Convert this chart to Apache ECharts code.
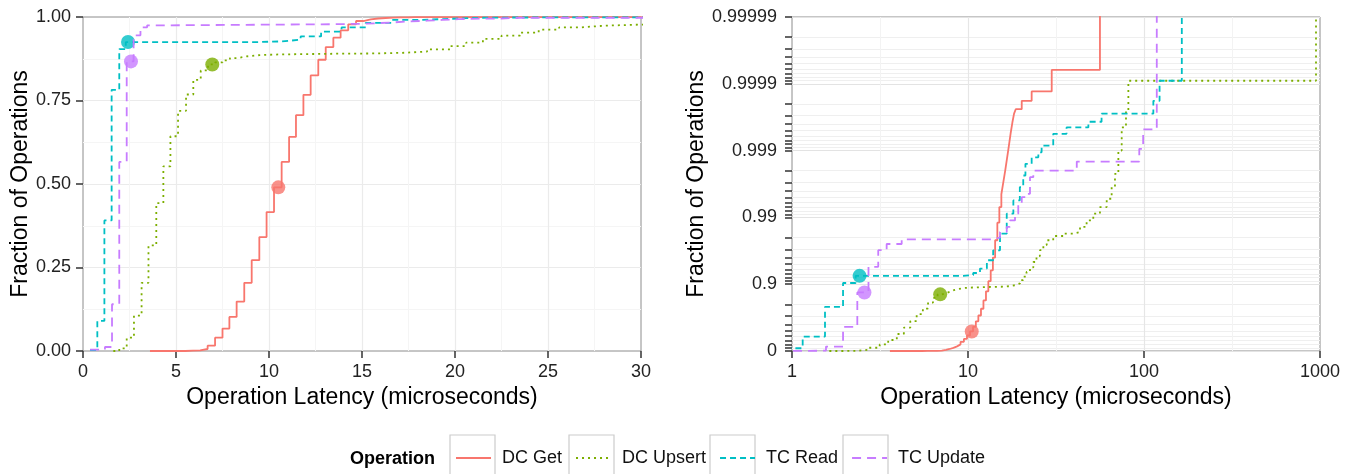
<!DOCTYPE html>
<html>
<head>
<meta charset="utf-8">
<title>Operation latency CDF</title>
<script src="https://cdn.jsdelivr.net/npm/echarts@6/dist/echarts.min.js"></script>
<style>
  html, body { margin: 0; padding: 0; background: #fff; }
  #chart { width: 1354px; height: 474px; }
</style>
</head>
<body>
<div id="chart"></div>
<script>
// operations, in legend order
var operations = ['DC Get', 'DC Upsert', 'TC Read', 'TC Update'];

// cumulative curves: latency in microseconds, fraction of operations at or below it
var dcGetLatency = [3.6, 5.5, 5.9, 6.3, 6.7, 7.1, 7.5, 7.87, 8.26, 8.67, 9.07, 9.48, 9.87, 10.27, 10.68, 11.08, 11.45, 11.85, 12.24, 12.65, 13.05, 13.46, 13.85, 14.26, 14.68, 15.07, 15.47, 15.87, 16.27, 16.67, 17.07, 17.47, 17.87, 18.27, 18.67, 20.2, 23.0, 29.9, 56.2];
var dcGetFraction = [0, 0.001, 0.002, 0.006, 0.016, 0.040, 0.067, 0.102, 0.148, 0.204, 0.272, 0.341, 0.416, 0.490, 0.566, 0.641, 0.706, 0.767, 0.825, 0.872, 0.910, 0.938, 0.960, 0.978, 0.988, 0.993, 0.9955, 0.997, 0.998, 0.9987, 0.99915, 0.99945, 0.99962, 0.99972, 0.99976, 0.99982, 0.99987, 0.999938, 1];

var dcUpsertLatency = [1.63, 1.95, 2.35, 2.74, 3.15, 3.52, 3.94, 4.32, 4.70, 5.11, 5.54, 5.93, 6.33, 6.72, 7.1, 7.5, 7.9, 8.3, 8.8, 9.5, 10.6, 13.5, 15.9, 17.3, 18.5, 19.75, 20.6, 21.5, 22.5, 23.5, 24.5, 25.6, 26.8, 28.0, 30.5, 34.8, 39.7, 43.3, 47.2, 51.5, 56.2, 61.4, 65.5, 68.4, 71.5, 74.7, 79.0, 81.5, 949];
var dcUpsertFraction = [0, 0.008, 0.040, 0.106, 0.204, 0.316, 0.443, 0.553, 0.643, 0.719, 0.768, 0.812, 0.840, 0.858, 0.864, 0.870, 0.877, 0.882, 0.886, 0.888, 0.890, 0.891, 0.893, 0.8965, 0.903, 0.913, 0.923, 0.9345, 0.944, 0.9535, 0.962, 0.969, 0.974, 0.978, 0.981, 0.9825, 0.9834, 0.9861, 0.9889, 0.9912, 0.993, 0.99474, 0.99648, 0.99777, 0.9990, 0.99955, 0.99975, 0.99991, 1];

var tcReadLatency = [0.38, 0.77, 1.15, 1.54, 1.95, 2.3, 9.4, 10.7, 11.7, 12.8, 13.9, 15.2, 16.6, 18.1, 19.7, 20.6, 21.2, 23.0, 25.1, 26.2, 30.5, 36.3, 48.3, 57.4, 113, 122.6, 164];
var tcReadFraction = [0.003, 0.09, 0.391, 0.782, 0.904, 0.925, 0.927, 0.932, 0.9417, 0.9562, 0.9689, 0.9825, 0.9912, 0.99443, 0.99648, 0.99764, 0.99842, 0.99874, 0.99894, 0.99916, 0.99944, 0.99955, 0.99963, 0.99972, 0.99982, 0.99991, 1];

var tcUpdateLatency = [0.38, 1.18, 1.56, 1.95, 2.35, 2.72, 3.09, 3.45, 4.2, 13.9, 15.2, 16.6, 17.3, 18.5, 19.3, 20.2, 21.5, 22.5, 23.5, 41.5, 94.0, 98.9, 118.2];
var tcUpdateFraction = [0.004, 0.012, 0.14, 0.566, 0.867, 0.945, 0.969, 0.975, 0.9786, 0.980, 0.9835, 0.9861, 0.9889, 0.9912, 0.99375, 0.99502, 0.99556, 0.9975, 0.99801, 0.99854, 0.99906, 0.99952, 1];

// big dots, one per operation
var markerLatency = [10.5, 6.95, 2.42, 2.58];
var markerFraction = [0.49, 0.858, 0.925, 0.867];

// tick labels of the "nines" axis, one per decade of 1 - fraction
var ninesTickLabels = ['0', '0.9', '0.99', '0.999', '0.9999', '0.99999'];

var colors = ['#F8766D', '#7CAE00', '#00BFC4', '#C77CFF'];
var dashes = ['solid', [2, 4], [6, 4], [9, 6]];
var font = 'Liberation Sans';

var curves = [
    [dcGetLatency, dcGetFraction],
    [dcUpsertLatency, dcUpsertFraction],
    [tcReadLatency, tcReadFraction],
    [tcUpdateLatency, tcUpdateFraction]
];

// fraction -> number of nines, so 0.9 -> 1, 0.99 -> 2 ...
function nines(p) {
    return p >= 1 ? 6 : -Math.log10(1 - p);
}

// minor ticks: 0.1 .. 0.8 inside each decade, plus the decade itself
var ninesTicks = [];
for (var d = 0; d < 5; d++) {
    for (var k = 0; k < 9; k++) {
        ninesTicks.push(d - Math.log10(1 - k / 10));
    }
}
ninesTicks.push(5);
var ninesSplitColors = ['#e3e3e3'];
for (var c = 0; c < 8; c++) ninesSplitColors.push('#efefef');

var tickStyle = { show: true, length: 7, lineStyle: { color: '#333', width: 1.5 } };
var labelStyle = { fontSize: 18, color: '#222', fontFamily: font };
var nameStyle = { fontSize: 23, color: '#000', fontFamily: font };

var series = [];
operations.forEach(function (name, i) {
    var lat = curves[i][0], frac = curves[i][1];
    var common = {
        name: name,
        type: 'line',
        step: 'end',
        symbol: 'none',
        showSymbol: false,
        clip: true,
        itemStyle: { color: colors[i] },
        lineStyle: { color: colors[i], width: 1.8, type: dashes[i] }
    };
    series.push(Object.assign({}, common, {
        xAxisIndex: 0, yAxisIndex: 0,
        data: lat.map(function (x, j) { return [x, frac[j]]; })
    }));
    series.push(Object.assign({}, common, {
        xAxisIndex: 2, yAxisIndex: 1,
        data: lat.map(function (x, j) { return [x, nines(frac[j])]; })
    }));
});

series.push({
    name: 'marker-left', type: 'scatter', xAxisIndex: 0, yAxisIndex: 0,
    symbolSize: 14,
    data: markerLatency.map(function (x, i) {
        return { value: [x, markerFraction[i]], itemStyle: { color: colors[i] } };
    })
});
series.push({
    name: 'marker-right', type: 'scatter', xAxisIndex: 2, yAxisIndex: 1,
    symbolSize: 14,
    data: markerLatency.map(function (x, i) {
        return { value: [x, nines(markerFraction[i])], itemStyle: { color: colors[i] } };
    })
});

var chart = echarts.init(document.getElementById('chart'));

var option = {
    animation: false,
    backgroundColor: '#fff',
    textStyle: { fontFamily: font },
    grid: [
        { left: 83, top: 17, width: 558, height: 334, show: true, borderColor: '#8c8c8c', borderWidth: 1, backgroundColor: '#fff', outerBoundsMode: 'none' },
        { left: 792, top: 17, width: 528, height: 334, show: true, borderColor: '#8c8c8c', borderWidth: 1, backgroundColor: '#fff', outerBoundsMode: 'none' }
    ],
    xAxis: [
        {
            gridIndex: 0, type: 'value', position: 'bottom', min: 0, max: 30, interval: 5,
            name: 'Operation Latency (microseconds)', nameLocation: 'middle', nameGap: 34,
            nameTextStyle: nameStyle,
            axisLine: { show: false },
            axisTick: tickStyle,
            axisLabel: Object.assign({ margin: 12 }, labelStyle),
            splitLine: { show: true, showMinLine: false, showMaxLine: false, lineStyle: { color: '#ebebeb', width: 1.2 } },
            minorTick: { show: false, splitNumber: 2 },
            minorSplitLine: { show: true, lineStyle: { color: '#f5f5f5', width: 1 } }
        },
        {
            // helper axis for the half-decade grid lines of the log panel
            gridIndex: 1, type: 'value', position: 'top', min: 0, max: 3, interval: 0.5,
            axisLine: { show: false }, axisTick: { show: false }, axisLabel: { show: false },
            splitLine: { show: true, showMinLine: false, showMaxLine: false, lineStyle: { color: '#f3f3f3', width: 1 } }
        },
        {
            gridIndex: 1, type: 'log', position: 'bottom', logBase: 10, min: 1, max: 1000,
            name: 'Operation Latency (microseconds)', nameLocation: 'middle', nameGap: 34,
            nameTextStyle: nameStyle,
            axisLine: { show: false },
            axisTick: tickStyle,
            axisLabel: Object.assign({ margin: 12, formatter: function (v) { return String(Math.round(v)); } }, labelStyle),
            splitLine: { show: true, showMinLine: false, showMaxLine: false, lineStyle: { color: '#e6e6e6', width: 1.2 } }
        }
    ],
    yAxis: [
        {
            gridIndex: 0, type: 'value', min: 0, max: 1, interval: 0.25,
            name: 'Fraction of Operations', nameLocation: 'middle', nameGap: 48,
            nameTextStyle: nameStyle,
            axisLine: { show: false },
            axisTick: tickStyle,
            axisLabel: Object.assign({ margin: 12, formatter: function (v) { return v.toFixed(2); } }, labelStyle),
            splitLine: { show: true, showMinLine: false, showMaxLine: false, lineStyle: { color: '#ebebeb', width: 1.2 } },
            minorTick: { show: false, splitNumber: 2 },
            minorSplitLine: { show: true, lineStyle: { color: '#f5f5f5', width: 1 } }
        },
        {
            gridIndex: 1, type: 'value', min: 0, max: 5,
            name: 'Fraction of Operations', nameLocation: 'middle', nameGap: 80,
            nameTextStyle: nameStyle,
            axisLine: { show: false },
            axisTick: Object.assign({ customValues: ninesTicks }, tickStyle),
            axisLabel: Object.assign({
                margin: 15,
                customValues: ninesTickLabels.map(function (s, i) { return i; }),
                formatter: function (v) { return ninesTickLabels[Math.round(v)]; }
            }, labelStyle),
            splitLine: { show: true, lineStyle: { color: ninesSplitColors, width: 1 } }
        }
    ],
    legend: {
        data: operations,
        left: 455, top: 449, padding: 0,
        itemWidth: 35, itemHeight: 14, itemGap: 13,
        selectedMode: false,
        itemStyle: { opacity: 0 },
        textStyle: { fontSize: 18, color: '#111', fontFamily: font, padding: [0, 0, 0, 6] }
    },
    graphic: [
        { type: 'text', x: 350, y: 459, style: { text: 'Operation', fontSize: 18, fontWeight: 'bold', fontFamily: font, fill: '#000', verticalAlign: 'middle' } },
        { type: 'rect', shape: { x: 450, y: 435, width: 45, height: 50 }, style: { fill: 'none', stroke: '#cccccc', lineWidth: 1.2 } },
        { type: 'rect', shape: { x: 569, y: 435, width: 45, height: 50 }, style: { fill: 'none', stroke: '#cccccc', lineWidth: 1.2 } },
        { type: 'rect', shape: { x: 710, y: 435, width: 45, height: 50 }, style: { fill: 'none', stroke: '#cccccc', lineWidth: 1.2 } },
        { type: 'rect', shape: { x: 843, y: 435, width: 45, height: 50 }, style: { fill: 'none', stroke: '#cccccc', lineWidth: 1.2 } }
    ],
    series: series
};

chart.setOption(option);
</script>
</body>
</html>
